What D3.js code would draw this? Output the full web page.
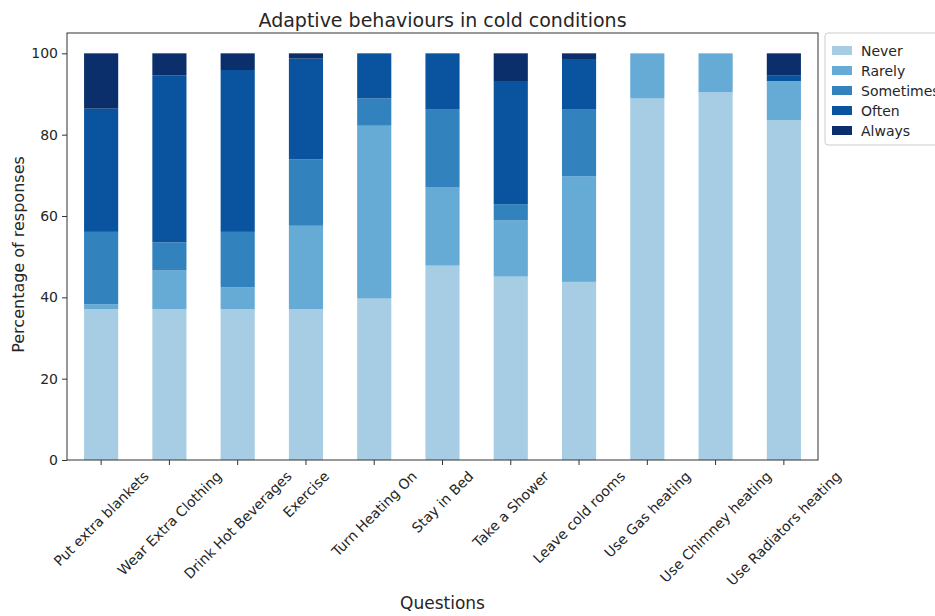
<!DOCTYPE html>
<html>
<head>
<meta charset="utf-8">
<script src="https://cdn.jsdelivr.net/npm/d3@7"></script>
<style>
  body { margin: 0; background: #fff; }
  text { font-family: "DejaVu Sans", sans-serif; fill: #262626; }
</style>
</head>
<body>
<svg id="chart" width="935" height="616"></svg>
<script>
// data (percent of responses)
let questions = ['Put extra blankets', 'Wear Extra Clothing', 'Drink Hot Beverages', 'Exercise',
  'Turn Heating On', 'Stay in Bed', 'Take a Shower', 'Leave cold rooms',
  'Use Gas heating', 'Use Chimney heating', 'Use Radiators heating'];
let levels = ['Never', 'Rarely', 'Sometimes', 'Often', 'Always'];
let never     = [37.1, 37.1, 37.1, 37.1, 39.7, 47.8, 45.1, 43.8, 88.9, 90.4, 83.6];
let rarely    = [ 1.2,  9.5,  5.4, 20.5, 42.5, 19.2, 13.8, 26.0, 11.1,  9.6,  9.6];
let sometimes = [17.8,  6.9, 13.6, 16.3,  6.7, 19.3,  4.0, 16.5,  0,    0,    0  ];
let often     = [30.3, 41.1, 39.8, 24.8, 11.1, 13.7, 30.3, 12.3,  0,    0,    1.3];
let always    = [13.6,  5.4,  4.1,  1.3,  0,    0,    6.8,  1.4,  0,    0,    5.5];
let yTicks = [0, 20, 40, 60, 80, 100];

let colors = ['#a6cde3', '#66aad6', '#3282be', '#0a539e', '#0a2f6b'];

let rows = questions.map((q, i) => ({
  q: q, Never: never[i], Rarely: rarely[i], Sometimes: sometimes[i], Often: often[i], Always: always[i]
}));

let svg = d3.select('#chart');
let margin = {left: 67, right: 117, top: 33, bottom: 156};
let width = 935 - margin.left - margin.right;
let height = 616 - margin.top - margin.bottom;

let g = svg.append('g').attr('transform', `translate(${margin.left},${margin.top})`);

let x = d3.scaleBand().domain(questions).range([0, width]).paddingInner(0.5).paddingOuter(0.25);
let y = d3.scaleLinear().domain([0, 105]).range([height, 0]);
let color = d3.scaleOrdinal().domain(levels).range(colors);

let series = d3.stack().keys(levels)(rows);

g.selectAll('.layer')
  .data(series)
  .enter()
  .append('g')
  .attr('class', 'layer')
  .attr('fill', d => color(d.key))
  .selectAll('rect')
  .data(d => d)
  .enter()
  .append('rect')
  .attr('x', d => x(d.data.q))
  .attr('width', x.bandwidth())
  .attr('y', d => y(d[1]))
  .attr('height', d => y(d[0]) - y(d[1]));

// frame
g.append('rect')
  .attr('width', width).attr('height', height)
  .attr('fill', 'none').attr('stroke', '#333').attr('stroke-width', 1);

// y axis
let yAxis = g.append('g')
  .call(d3.axisLeft(y).tickValues(yTicks).tickSize(5).tickPadding(4));
yAxis.select('.domain').remove();
yAxis.selectAll('line').attr('stroke', '#333');
yAxis.selectAll('text').style('font-size', '14px').style('font-family', '"DejaVu Sans", sans-serif').attr('fill', '#262626');

// x axis
let xAxis = g.append('g')
  .attr('transform', `translate(0,${height})`)
  .call(d3.axisBottom(x).tickSize(5).tickFormat(''));
xAxis.select('.domain').remove();
xAxis.selectAll('line').attr('stroke', '#333');

let xl = g.append('g').attr('transform', `translate(0,${height})`);
xl.selectAll('text')
  .data(questions)
  .enter()
  .append('text')
  .style('font-size', '14px')
  .attr('text-anchor', 'middle')
  .attr('dominant-baseline', 'central')
  .text(d => d)
  .each(function(d){
    let w = this.getComputedTextLength();
    let half = (w + 16) * Math.SQRT1_2 / 2;
    d3.select(this).attr('transform',
      `translate(${x(d) + x.bandwidth()/2},${8 + half}) rotate(-45)`);
  });

// titles
svg.append('text')
  .attr('x', margin.left + width/2).attr('y', 27)
  .attr('text-anchor', 'middle')
  .style('font-size', '19px')
  .text('Adaptive behaviours in cold conditions');

svg.append('text')
  .attr('x', margin.left + width/2).attr('y', 609)
  .attr('text-anchor', 'middle')
  .style('font-size', '17px')
  .text('Questions');

svg.append('text')
  .attr('transform', `translate(24,${margin.top + height/2 + 8}) rotate(-90)`)
  .attr('text-anchor', 'middle')
  .style('font-size', '16px')
  .text('Percentage of responses');

// legend
let lg = svg.append('g').attr('transform', 'translate(825,33)');
lg.append('rect')
  .attr('width', 130).attr('height', 112).attr('rx', 3)
  .attr('fill', '#fff').attr('stroke', '#ccc');
let item = lg.selectAll('.item')
  .data(levels)
  .enter()
  .append('g')
  .attr('class', 'item')
  .attr('transform', (_, i) => `translate(7,${13 + i*20})`);
item.append('rect')
  .attr('width', 20).attr('height', 9)
  .attr('fill', d => color(d));
item.append('text')
  .attr('x', 29).attr('y', 5)
  .attr('dominant-baseline', 'central')
  .style('font-size', '14px')
  .text(d => d);
</script>
</body>
</html>
